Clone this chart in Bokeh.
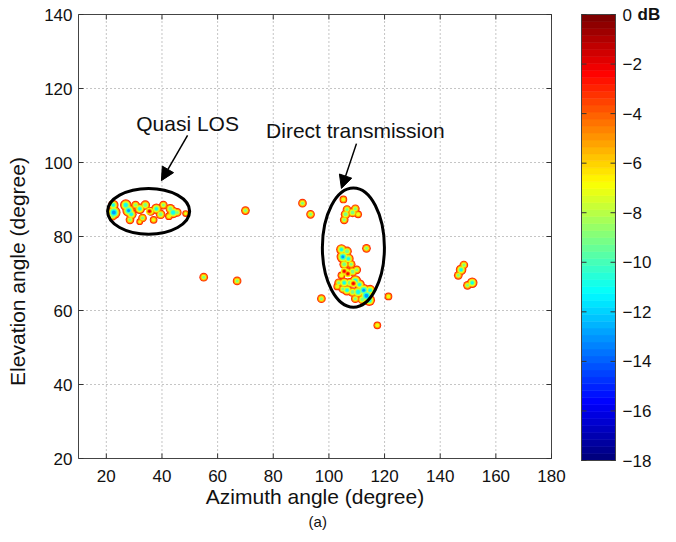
import numpy as np
from bokeh.plotting import figure
from bokeh.models import (FixedTicker, Arrow, NormalHead, Label, Range1d)
from bokeh.embed import file_html
from bokeh.resources import INLINE
from bokeh.core.properties import value

# ---------------- data ----------------
# contour spots: azimuth (deg), elevation (deg), deepest contour level reached (dB)
spot_az = [70.0, 90.5, 93.4, 55.0, 67.0, 97.3, 121.4, 117.4, 105.2, 113.5, 48.5,
           22.5, 22.7, 22.3,
           27.0, 28.0, 29.0, 28.5, 30.5,
           32.0, 34.0, 36.0, 38.0, 39.5, 37.0, 33.0, 40.5, 32.0,
           43.0, 44.0, 45.5, 42.5,
           105.5, 106.0, 106.5, 108.5, 109.5, 110.5,
           104.5, 106.5, 105.0, 107.0, 105.5, 108.0,
           106.5, 108.5, 110.0, 104.5,
           103.5, 105.5, 107.5, 109.5, 111.0, 106.5, 108.5, 110.5, 112.5, 113.5,
           114.5, 112.0, 109.5, 114.8, 103.0, 105.0,
           146.5, 147.5, 148.5, 149.8, 151.5]
spot_el = [87.0, 89.0, 86.0, 69.0, 68.0, 63.2, 63.8, 56.0, 90.0, 76.8, 86.2,
           88.5, 86.5, 85.5,
           88.5, 87.0, 86.0, 84.5, 88.5,
           87.5, 88.5, 86.8, 87.5, 86.0, 84.5, 85.0, 88.5, 84.0,
           87.5, 86.5, 86.5, 85.5,
           84.5, 86.0, 87.3, 86.5, 87.5, 86.0,
           76.5, 76.0, 74.5, 74.0, 72.5, 72.5,
           70.5, 70.5, 71.0, 69.5,
           67.5, 67.5, 67.5, 68.0, 67.0, 65.5, 65.0, 65.0, 65.5, 64.0,
           62.8, 63.0, 63.2, 65.5, 66.5, 65.8,
           69.5, 71.0, 72.3, 66.8, 67.5]
spot_db = [-9, -9, -9, -9, -9, -9, -8, -8, -8, -9, -7,
           -11, -14, -9,
           -12, -13, -11, -9, -9,
           -11, -10, -9, -11, -10, -8, -9, -9, -7,
           -10, -12, -9, -8,
           -9, -10, -9, -10, -9, -8,
           -11, -10, -13, -11, -10, -9,
           -9, -10, -9, -8,
           -9, -11, -10, -12, -11, -11, -10, -12, -13, -14,
           -12, -10, -9, -11, -8, -9,
           -9, -11, -9, -9, -11]
# strong peaks (re-rising contours)
hot_az = [35.5, 105.5, 106.8, 108.8]
hot_el = [86.8, 70.6, 69.9, 67.3]
hot_db = [-2, -2, -2, -2]

x_ticks = [20, 40, 60, 80, 100, 120, 140, 160, 180]
y_ticks = [20, 40, 60, 80, 100, 120, 140]
x_lim = (10, 180)
y_lim = (20, 140)
cb_ticks = [0, -2, -4, -6, -8, -10, -12, -14, -16, -18]
cb_labels = ["0", "\u22122", "\u22124", "\u22126", "\u22128", "\u221210",
             "\u221212", "\u221214", "\u221216", "\u221218"]
cb_unit = "dB"
cb_lim = (-18, 0)
contour_levels = [-3, -5, -7, -9, -11, -13, -15]
region_names = ["Quasi LOS", "Direct transmission"]
x_title = "Azimuth angle (degree)"
y_title = "Elevation angle (degree)"
panel_tag = "(a)"

# ---------------- colormap (jet) ----------------
def jet(t):
    r = np.clip(1.5 - abs(4 * t - 3), 0, 1)
    g = np.clip(1.5 - abs(4 * t - 2), 0, 1)
    b = np.clip(1.5 - abs(4 * t - 1), 0, 1)
    return "#%02x%02x%02x" % (int(r * 255), int(g * 255), int(b * 255))

NCOL = 64
palette = [jet(i / (NCOL - 1)) for i in range(NCOL)]

def lvl_color(db):
    return jet((db + 18) / 18)

FONT = "Liberation Sans"
TXT = "#111111"
AX = "#444444"

# ---------------- layout geometry (pixels) ----------------
W, H = 676, 542
L_PX = 78                                 # frame: x 78..676, y 0..542
box_right, box_top, box_bottom = 551, 14, 458
cb_left, cb_right, cb_top, cb_bottom = 581, 615, 14, 460
xs = (box_right - L_PX) / (x_lim[1] - x_lim[0])        # px per degree azimuth
ys = (box_bottom - box_top) / (y_lim[1] - y_lim[0])    # px per degree elevation
cbs = (cb_bottom - cb_top) / (cb_lim[1] - cb_lim[0])   # px per dB

def px_x(px):
    return x_lim[0] + (px - L_PX) / xs

def px_y(py):
    return y_lim[1] - (py - box_top) / ys

p = figure(width=W, height=H,
           x_range=(x_lim[0], px_x(W)), y_range=(px_y(H), px_y(0)),
           output_backend="svg", toolbar_location=None, title=None,
           x_axis_location=None, y_axis_location="left",
           min_border_left=L_PX, min_border_right=0, min_border_top=0,
           min_border_bottom=0)
p.background_fill_color = "white"
p.border_fill_color = "white"
p.outline_line_color = None
p.grid.visible = False
p.extra_y_ranges = {"cb": Range1d(cb_lim[0] - (H - cb_bottom) / cbs,
                                  cb_lim[1] + cb_top / cbs)}

ax = p.yaxis[0]
ax.ticker = FixedTicker(ticks=y_ticks)
ax.bounds = y_lim
ax.major_tick_in = 5
ax.major_tick_out = 0
ax.minor_tick_line_color = None
ax.axis_line_color = AX
ax.major_tick_line_color = "#333333"
ax.major_label_text_font = FONT
ax.major_label_text_font_size = "17px"
ax.major_label_text_color = TXT
ax.major_label_standoff = 6
ax.axis_label = y_title
ax.axis_label_text_font = FONT
ax.axis_label_text_font_size = "21px"
ax.axis_label_text_font_style = "normal"
ax.axis_label_text_color = TXT
ax.axis_label_standoff = 12

# dotted grid inside the axes box
nx, ny = len(x_ticks), len(y_ticks)
p.segment(x0=x_ticks, x1=x_ticks, y0=[y_lim[0]] * nx, y1=[y_lim[1]] * nx,
          line_color="#8a8a8a", line_dash="1 3", line_width=1)
p.segment(x0=[x_lim[0]] * ny, x1=[x_lim[1]] * ny, y0=y_ticks, y1=y_ticks,
          line_color="#8a8a8a", line_dash="1 3", line_width=1)
# bottom, top and right sides of the box
p.segment(x0=[x_lim[0], x_lim[0], x_lim[1]], x1=[x_lim[1], x_lim[1], x_lim[1]],
          y0=[y_lim[0], y_lim[1], y_lim[0]], y1=[y_lim[0], y_lim[1], y_lim[1]],
          line_color=AX, line_width=1)
# inward ticks on bottom, top and right
p.segment(x0=x_ticks, x1=x_ticks, y0=[y_lim[0]] * nx, y1=[y_lim[0] + 5 / ys] * nx,
          line_color="#333333", line_width=1)
p.segment(x0=x_ticks, x1=x_ticks, y0=[y_lim[1]] * nx, y1=[y_lim[1] - 5 / ys] * nx,
          line_color="#333333", line_width=1)
p.segment(x0=[x_lim[1]] * ny, x1=[x_lim[1] - 5 / xs] * ny, y0=y_ticks, y1=y_ticks,
          line_color="#333333", line_width=1)
# azimuth tick labels, title and panel tag under the box
p.text(x=x_ticks, y=[px_y(box_bottom + 17)] * nx, text=[str(t) for t in x_ticks],
       text_align="center", text_baseline="middle", text_font=value(FONT),
       text_font_size="17px", text_color=TXT)
xmid = (x_lim[0] + x_lim[1]) / 2
p.text(x=[xmid], y=[px_y(496)], text=[x_title], text_align="center",
       text_baseline="middle", text_font=value(FONT), text_font_size="21px",
       text_color=TXT)
p.text(x=[xmid + 1], y=[px_y(521)], text=[panel_tag], text_align="center",
       text_baseline="middle", text_font=value(FONT), text_font_size="15px",
       text_color=TXT)

# ---------------- contour spots ----------------
saz = np.array(spot_az); sel = np.array(spot_el); sdb = np.array(spot_db)
for Lv in contour_levels:
    m = sdb <= Lv
    if not m.any():
        continue
    sizes = 3.0 + 1.9 * (Lv - sdb[m]) / 2.0
    p.scatter(saz[m], sel[m], size=sizes, marker="circle",
              fill_color=lvl_color(Lv), line_color=None)

# peaks: yellow -> orange -> red
for lv, sz in ((-7, 7), (-5, 5), (-3, 3.5)):
    p.scatter(hot_az, hot_el, size=sz, marker="circle",
              fill_color=lvl_color(lv), line_color=None)
p.scatter(hot_az, hot_el, size=2, marker="circle",
          fill_color=[lvl_color(v) for v in hot_db], line_color=None)

# ---------------- annotations ----------------
p.ellipse(x=[35.2, 108.8], y=[86.8, 77.0], width=[29.5, 22.3], height=[12.4, 32.2],
          fill_color=None, line_color="black", line_width=3)

for x0, y0, x1, y1 in ((49.2, 107.3, 39.8, 95.1), (109.9, 105.1, 104.5, 93.0)):
    p.add_layout(Arrow(end=NormalHead(size=13, fill_color="black", line_color="black"),
                       x_start=x0, y_start=y0, x_end=x1, y_end=y1,
                       line_color="black", line_width=1.5))

for name, ax_, el_ in zip(region_names, [49.2, 109.5], [110.5, 108.6]):
    p.add_layout(Label(x=ax_, y=el_, text=name, text_align="center",
                       text_baseline="middle", text_font=FONT,
                       text_font_size="21px", text_color=TXT))

# ---------------- colorbar ----------------
cx0, cx1 = px_x(cb_left), px_x(cb_right)
step = (cb_lim[1] - cb_lim[0]) / NCOL
bottoms = [cb_lim[0] + i * step for i in range(NCOL)]
p.quad(left=cx0, right=cx1, bottom=bottoms, top=[b + step for b in bottoms],
       fill_color=palette, line_color=palette, line_width=0.6, y_range_name="cb")
p.quad(left=cx0, right=cx1, bottom=cb_lim[0], top=cb_lim[1], fill_color=None,
       line_color=AX, line_width=1, y_range_name="cb")
nc = len(cb_ticks)
p.segment(x0=[cx0] * nc, x1=[cx0 + 5 / xs] * nc, y0=cb_ticks, y1=cb_ticks,
          line_color="#333333", y_range_name="cb")
p.segment(x0=[cx1] * nc, x1=[cx1 - 5 / xs] * nc, y0=cb_ticks, y1=cb_ticks,
          line_color="#333333", y_range_name="cb")
p.text(x=[px_x(cb_right + 7)] * nc, y=cb_ticks, text=cb_labels,
       text_baseline="middle", text_font=value(FONT), text_font_size="17px",
       text_color=TXT, y_range_name="cb")
p.text(x=[px_x(cb_right + 22)], y=[cb_ticks[0]], text=[cb_unit],
       text_baseline="middle", text_font=value(FONT), text_font_size="17px",
       text_font_style="bold", text_color=TXT, y_range_name="cb")

open("out.html", "w").write(file_html(p, INLINE))
